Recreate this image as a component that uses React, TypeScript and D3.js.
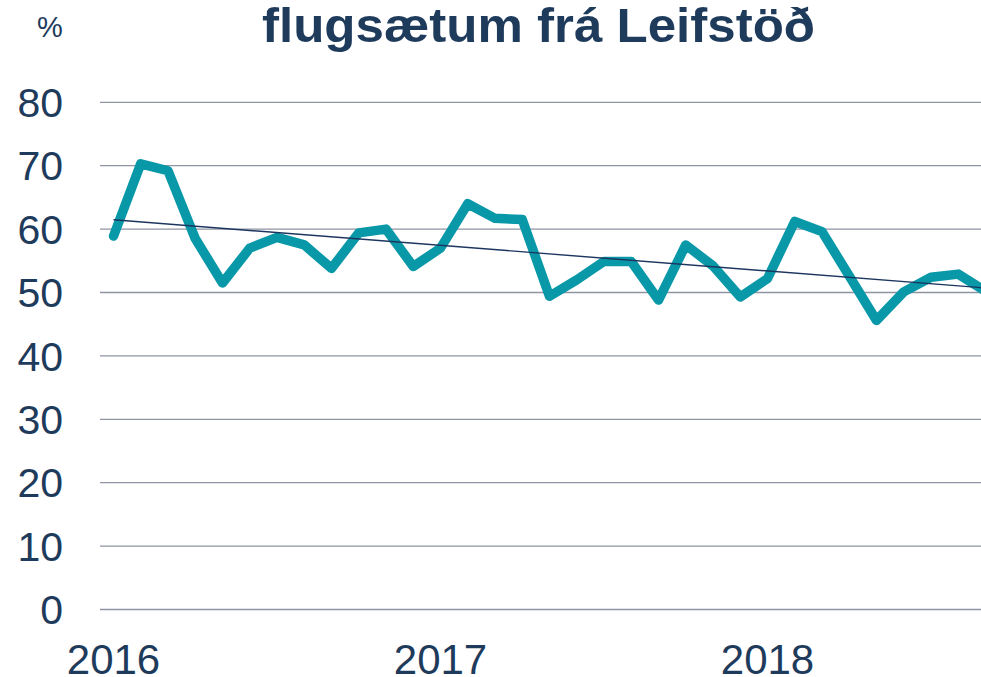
import React, { useMemo } from "react";
import * as d3 from "d3";

// monthly values, Jan 2016 onwards (%)
const values2016 = [58.9, 70.3, 69.2, 58.5, 51.5, 57.0, 58.7, 57.5, 53.8, 59.4, 60.0, 54.1];
const values2017 = [57.0, 64.0, 61.7, 61.5, 49.4, 52.0, 54.9, 54.9, 48.8, 57.5, 54.2, 49.3];
const values2018 = [52.2, 61.2, 59.6, 52.6, 45.6, 50.1, 52.4, 52.9, 50.2];
const yearLabels = ["2016", "2017", "2018"];
const yTicks = [0, 10, 20, 30, 40, 50, 60, 70, 80];

const title = "flugsætum frá Leifstöð";
const unitLabel = "%";

export default function App() {
  const width = 981;
  const height = 677;
  const plotLeft = 100;
  const plotRight = 981;

  const data = useMemo(
    () => [...values2016, ...values2017, ...values2018].map((v, i) => ({ i, v })),
    []
  );

  const x = d3.scaleLinear().domain([0, 32]).range([113.5, 985.5]);
  const y = d3.scaleLinear().domain([0, 80]).range([609.5, 102.3]);

  // least-squares trend line
  const trend = useMemo(() => {
    const mx = d3.mean(data, (d) => d.i)!;
    const my = d3.mean(data, (d) => d.v)!;
    const sxy = d3.sum(data, (d) => (d.i - mx) * (d.v - my));
    const sxx = d3.sum(data, (d) => (d.i - mx) ** 2);
    const slope = sxy / sxx;
    const icpt = my - slope * mx;
    const xEnd = x.invert(plotRight + 10);
    return [
      { i: 0, v: icpt },
      { i: xEnd, v: icpt + slope * xEnd },
    ];
  }, [data]);

  const line = d3
    .line<{ i: number; v: number }>()
    .x((d) => x(d.i))
    .y((d) => y(d.v));

  const navy = "#1f3b5c";

  return (
    <svg
      width={width}
      height={height}
      style={{ position: "fixed", left: 0, top: 0, background: "#fff" }}
      fontFamily="'Liberation Sans', Arial, sans-serif"
    >
      <defs>
        <clipPath id="plotClip">
          <rect x={plotLeft} y={0} width={plotRight - plotLeft} height={height} />
        </clipPath>
      </defs>

      <text
        x={538.5}
        y={42}
        textAnchor="middle"
        fontSize={49}
        fontWeight="bold"
        fill={navy}
        textLength={553}
        lengthAdjust="spacingAndGlyphs"
      >
        {title}
      </text>
      <text x={50} y={37} textAnchor="middle" fontSize={29} fill={navy}>
        {unitLabel}
      </text>

      {/* gridlines */}
      {yTicks.map((t) => (
        <line
          key={t}
          x1={plotLeft}
          x2={plotRight}
          y1={y(t)}
          y2={y(t)}
          stroke="#8f94a2"
          strokeWidth={1.3}
        />
      ))}

      {/* y tick labels */}
      {yTicks.map((t) => (
        <text
          key={t}
          x={63}
          y={y(t)}
          dy="0.36em"
          textAnchor="end"
          fontSize={41}
          fill={navy}
        >
          {t}
        </text>
      ))}

      {/* year labels on January points */}
      {yearLabels.map((lab, k) => (
        <text key={lab} x={x(k * 12)} y={674} textAnchor="middle" fontSize={42} fill={navy}>
          {lab}
        </text>
      ))}

      <g clipPath="url(#plotClip)">
        <path
          d={line(data) || ""}
          fill="none"
          stroke="#0898a8"
          strokeWidth={9.5}
          strokeLinejoin="round"
          strokeLinecap="round"
        />
        <path d={line(trend) || ""} fill="none" stroke="#1c3660" strokeWidth={1.4} />
      </g>
    </svg>
  );
}
